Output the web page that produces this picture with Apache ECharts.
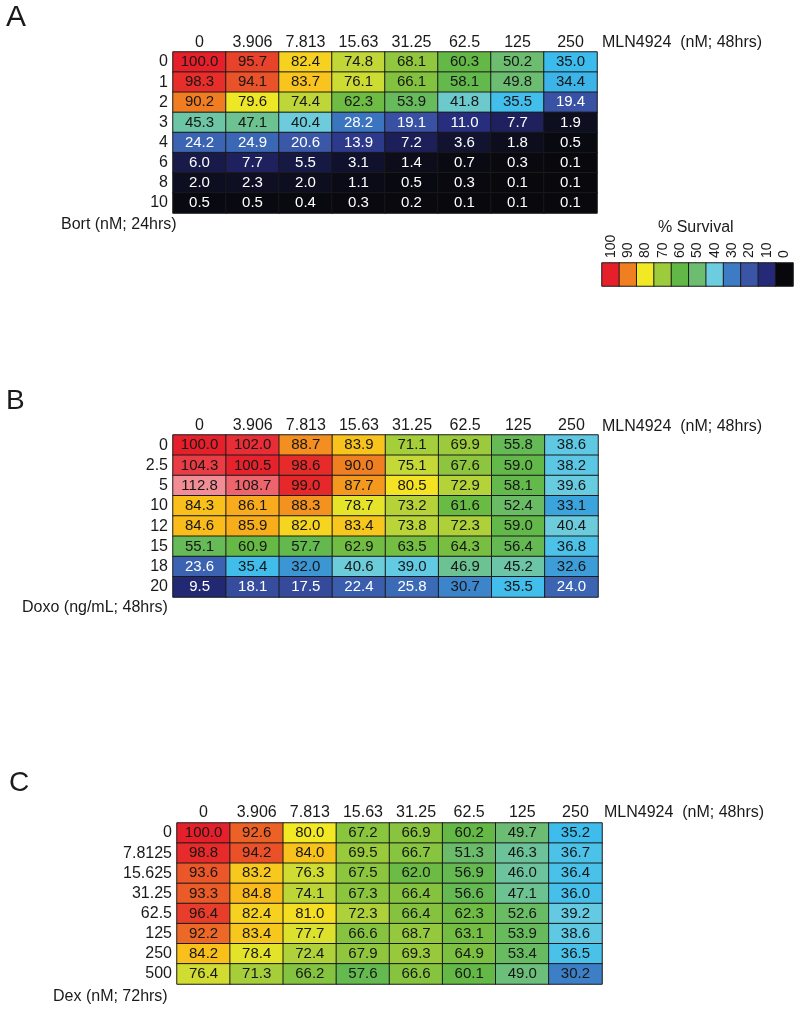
<!DOCTYPE html>
<html>
<head>
<meta charset="utf-8">
<script src="https://cdn.jsdelivr.net/npm/echarts@6/dist/echarts.min.js"></script>
<style>html,body{margin:0;padding:0;background:#fff}#c{width:800px;height:1012px}</style>
</head>
<body>
<div id="c"></div>
<script>
// ---- data ----
const mlnDoses = ['0','3.906','7.813','15.63','31.25','62.5','125','250'];

const bortDoses = ['0','1','2','3','4','6','8','10'];
const bortRows = [
  [100.0, 95.7, 82.4, 74.8, 68.1, 60.3, 50.2, 35.0],
  [98.3, 94.1, 83.7, 76.1, 66.1, 58.1, 49.8, 34.4],
  [90.2, 79.6, 74.4, 62.3, 53.9, 41.8, 35.5, 19.4],
  [45.3, 47.1, 40.4, 28.2, 19.1, 11.0, 7.7, 1.9],
  [24.2, 24.9, 20.6, 13.9, 7.2, 3.6, 1.8, 0.5],
  [6.0, 7.7, 5.5, 3.1, 1.4, 0.7, 0.3, 0.1],
  [2.0, 2.3, 2.0, 1.1, 0.5, 0.3, 0.1, 0.1],
  [0.5, 0.5, 0.4, 0.3, 0.2, 0.1, 0.1, 0.1]
];

const doxoDoses = ['0','2.5','5','10','12','15','18','20'];
const doxoRows = [
  [100.0, 102.0, 88.7, 83.9, 71.1, 69.9, 55.8, 38.6],
  [104.3, 100.5, 98.6, 90.0, 75.1, 67.6, 59.0, 38.2],
  [112.8, 108.7, 99.0, 87.7, 80.5, 72.9, 58.1, 39.6],
  [84.3, 86.1, 88.3, 78.7, 73.2, 61.6, 52.4, 33.1],
  [84.6, 85.9, 82.0, 83.4, 73.8, 72.3, 59.0, 40.4],
  [55.1, 60.9, 57.7, 62.9, 63.5, 64.3, 56.4, 36.8],
  [23.6, 35.4, 32.0, 40.6, 39.0, 46.9, 45.2, 32.6],
  [9.5, 18.1, 17.5, 22.4, 25.8, 30.7, 35.5, 24.0]
];

const dexDoses = ['0','7.8125','15.625','31.25','62.5','125','250','500'];
const dexRows = [
  [100.0, 92.6, 80.0, 67.2, 66.9, 60.2, 49.7, 35.2],
  [98.8, 94.2, 84.0, 69.5, 66.7, 51.3, 46.3, 36.7],
  [93.6, 83.2, 76.3, 67.5, 62.0, 56.9, 46.0, 36.4],
  [93.3, 84.8, 74.1, 67.3, 66.4, 56.6, 47.1, 36.0],
  [96.4, 82.4, 81.0, 72.3, 66.4, 62.3, 52.6, 39.2],
  [92.2, 83.4, 77.7, 66.6, 68.7, 63.1, 53.9, 38.6],
  [84.2, 78.4, 72.4, 67.9, 69.3, 64.9, 53.4, 36.5],
  [76.4, 71.3, 66.2, 57.6, 66.6, 60.1, 49.0, 30.2]
];

const legendLabels = ['100','90','80','70','60','50','40','30','20','10','0'];
const legendValues = [100, 90, 80, 70, 60, 50, 40, 30, 20, 10, 0];

// colour stops every 5 units from 0 to 120
const colorStops = [
  '#08080c', '#15173f', '#252a78', '#2f3f90', '#3a55a6', '#3b68b5',
  '#3d7cc4', '#3cbcec', '#6ccde0', '#6cc5a8', '#6cbd70', '#66ba58',
  '#62b846', '#7cc040', '#9ccb3c', '#c3d837', '#f2e824', '#fab81a',
  '#f07f22', '#e9482a', '#e6202a', '#ea4048', '#ef7078', '#f4a3ab', '#f8c8cc'
];

// ---- build ----
function toCells(rows) {
  const out = [];
  rows.forEach((r, yi) => r.forEach((v, xi) => out.push([xi, yi, v])));
  return out;
}
const FONT = 'Liberation Sans, Arial, sans-serif';
const cellLabel = {
  show: true,
  formatter: p => {
    const v = p.value[2];
    const t = v.toFixed(1);
    return v < 29 ? '{w|' + t + '}' : '{k|' + t + '}';
  },
  rich: {
    w: { color: '#ffffff', fontSize: 15, fontFamily: FONT },
    k: { color: '#161616', fontSize: 15, fontFamily: FONT }
  }
};
const cellStyle = { borderColor: '#1a1a1a', borderWidth: 1 };

function xAx(gi, cats, margin) {
  return {
    gridIndex: gi, type: 'category', data: cats, position: 'top',
    axisLine: { show: false }, axisTick: { show: false }, splitLine: { show: false },
    axisLabel: { fontSize: 16, color: '#1a1a1a', margin: margin, fontFamily: FONT, interval: 0 }
  };
}
function yAx(gi, cats) {
  return {
    gridIndex: gi, type: 'category', data: cats, inverse: true,
    axisLine: { show: false }, axisTick: { show: false }, splitLine: { show: false },
    axisLabel: { fontSize: 16, color: '#1a1a1a', margin: 5, fontFamily: FONT, interval: 0 }
  };
}
function hm(gi, rows) {
  return {
    type: 'heatmap', xAxisIndex: gi, yAxisIndex: gi, data: toCells(rows),
    label: cellLabel, itemStyle: cellStyle, emphasis: { disabled: true }
  };
}
function ttl(text, left, top, size) {
  return { text: text, left: left, top: top, padding: 0,
    textStyle: { fontSize: size, fontWeight: 'normal', color: '#1a1a1a', fontFamily: FONT } };
}

const chart = echarts.init(document.getElementById('c'), null, { renderer: 'canvas' });
chart.setOption({
  animation: false,
  backgroundColor: '#ffffff',
  textStyle: { fontFamily: FONT },
  title: [
    ttl('A', 6, 3, 30),
    ttl('B', 6, 387, 28),
    ttl('C', 9, 769, 28),
    ttl('MLN4924  (nM; 48hrs)', 602, 35, 16),
    ttl('MLN4924  (nM; 48hrs)', 602, 419, 16),
    ttl('MLN4924  (nM; 48hrs)', 604, 805, 16),
    ttl('Bort (nM; 24hrs)', 61, 217, 16),
    ttl('Doxo (ng/mL; 48hrs)', 22, 600, 16),
    ttl('Dex (nM; 72hrs)', 53, 989, 16),
    ttl('% Survival', 658, 220, 16)
  ],
  grid: [
    { left: 173, top: 52, width: 424, height: 161 },
    { left: 173, top: 435, width: 425, height: 162 },
    { left: 177, top: 823, width: 425, height: 161 },
    { left: 602, top: 263, width: 191, height: 23 }
  ],
  xAxis: [
    xAx(0, mlnDoses, 1), xAx(1, mlnDoses, 1), xAx(2, mlnDoses, 2),
    {
      gridIndex: 3, type: 'category', data: legendLabels, position: 'top',
      axisLine: { show: false }, axisTick: { show: false }, splitLine: { show: false },
      axisLabel: { fontSize: 14, color: '#1a1a1a', margin: 5, rotate: -90, fontFamily: FONT, interval: 0 }
    }
  ],
  yAxis: [
    yAx(0, bortDoses), yAx(1, doxoDoses), yAx(2, dexDoses),
    { gridIndex: 3, type: 'category', data: [''], show: false }
  ],
  visualMap: {
    type: 'continuous', show: false, min: 0, max: 120, dimension: 2,
    seriesIndex: [0, 1, 2, 3], inRange: { color: colorStops }
  },
  series: [
    hm(0, bortRows), hm(1, doxoRows), hm(2, dexRows),
    {
      type: 'heatmap', xAxisIndex: 3, yAxisIndex: 3,
      data: legendValues.map((v, i) => [i, 0, v]),
      label: { show: false }, itemStyle: { borderColor: '#1a1a1a', borderWidth: 1 },
      emphasis: { disabled: true }
    }
  ]
});
</script>
</body>
</html>
